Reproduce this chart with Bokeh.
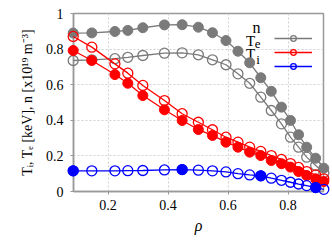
from bokeh.plotting import figure
from bokeh.models import Range1d, Legend, LegendItem, Label, FixedTicker
from bokeh.embed import file_html
from bokeh.resources import INLINE

# ---- data ----
rho = [0.084, 0.146, 0.223, 0.266, 0.316, 0.388, 0.447, 0.501, 0.548, 0.593,
       0.633, 0.672, 0.709, 0.744, 0.778, 0.808, 0.835, 0.862, 0.892, 0.919]
n_filled = [0.890, 0.891, 0.899, 0.905, 0.920, 0.936, 0.937, 0.923, 0.892, 0.848,
            0.788, 0.723, 0.639, 0.563, 0.474, 0.399, 0.319, 0.249, 0.187, 0.131]
n_open = [0.736, 0.740, 0.746, 0.754, 0.764, 0.777, 0.779, 0.768, 0.740, 0.712,
          0.661, 0.608, 0.530, 0.455, 0.380, 0.305, 0.249, 0.193, 0.146, 0.105]
te_filled = [0.792, 0.736, 0.657, 0.608, 0.539, 0.459, 0.399, 0.348, 0.315, 0.277,
             0.249, 0.221, 0.202, 0.174, 0.156, 0.137, 0.112, 0.090, 0.071, 0.056]
te_open = [0.871, 0.811, 0.717, 0.665, 0.596, 0.511, 0.437, 0.389, 0.347, 0.305,
           0.277, 0.249, 0.225, 0.202, 0.180, 0.157, 0.135, 0.112, 0.093, 0.071]
ti = [0.116, 0.116, 0.116, 0.117, 0.118, 0.121, 0.123, 0.120, 0.116, 0.110,
      0.100, 0.093, 0.088, 0.075, 0.063, 0.052, 0.042, 0.033, 0.022, 0.012]
ti_filled_step = 6
x_ticks = [0.2, 0.4, 0.6, 0.8]
y_ticks = [0, 0.2, 0.4, 0.6, 0.8, 1]

GRAY = "#7a7a7a"
RED = "#ff0000"
BLUE = "#0000ff"
SERIF = "Liberation Serif"
FRAME = "#999999"

p = figure(width=332, height=240, output_backend="svg", toolbar_location=None,
           x_range=Range1d(0.085, 0.918), y_range=Range1d(0, 1),
           min_border_left=73, min_border_right=9, min_border_top=13,
           min_border_bottom=49, background_fill_color="white",
           border_fill_color="white")
p.outline_line_color = FRAME
p.outline_line_width = 1.5

for ax in (p.xaxis[0], p.yaxis[0]):
    ax.axis_line_color = FRAME
    ax.axis_line_width = 1.5
    ax.major_tick_line_color = FRAME
    ax.major_tick_in = 0
    ax.major_tick_out = 3
    ax.minor_tick_line_color = None
    ax.major_label_text_font = SERIF
    ax.major_label_text_font_size = "14px"
    ax.major_label_text_color = "black"
    ax.axis_label_text_font = SERIF
    ax.axis_label_text_color = "black"

p.xaxis.ticker = FixedTicker(ticks=x_ticks)
p.yaxis.ticker = FixedTicker(ticks=y_ticks)
p.xaxis.major_label_standoff = 5
p.yaxis.major_label_standoff = 7
p.yaxis.major_label_overrides = {0: "0", 1: "1"}

p.xaxis.axis_label = "ρ"
p.xaxis.axis_label_text_font_style = "italic"
p.xaxis.axis_label_text_font_size = "16px"
p.xaxis.axis_label_standoff = 4
p.yaxis.axis_label = "Tᵢ, Tₑ [keV], n [x10¹⁹ m⁻³]"
p.yaxis.axis_label_text_font_style = "normal"
p.yaxis.axis_label_text_font_size = "14px"
p.yaxis.axis_label_standoff = 8

p.xgrid.ticker = FixedTicker(ticks=x_ticks)
p.ygrid.ticker = FixedTicker(ticks=y_ticks)
for g in (p.xgrid[0], p.ygrid[0]):
    g.grid_line_color = "#d0d0d0"
    g.grid_line_dash = "2 2"
    g.grid_line_width = 1

MS = 10
LW = 1.3
LV = "overlay"

# n
p.line(rho, n_filled, color=GRAY, line_width=LW, level=LV)
p.scatter(rho, n_filled, size=MS, color=GRAY, level=LV)
n_line = p.line(rho, n_open, color=GRAY, line_width=LW, level=LV)
n_pts = p.scatter(rho, n_open, size=MS, line_color=GRAY, fill_color=None,
                  line_width=LW, level=LV)
# Te
p.line(rho, te_filled, color=RED, line_width=LW, level=LV)
p.scatter(rho, te_filled, size=MS, color=RED, level=LV)
te_line = p.line(rho, te_open, color=RED, line_width=LW, level=LV)
te_pts = p.scatter(rho, te_open, size=MS, line_color=RED, fill_color=None,
                   line_width=LW, level=LV)
# Ti
ti_line = p.line(rho, ti, color=BLUE, line_width=LW, level=LV)
ti_pts = p.scatter(rho, ti, size=MS, line_color=BLUE, fill_color=None,
                   line_width=LW, level=LV)
p.scatter(rho[::ti_filled_step], ti[::ti_filled_step], size=MS, color=BLUE, level=LV)

legend = Legend(items=[LegendItem(label="", renderers=[n_line, n_pts]),
                       LegendItem(label="", renderers=[te_line, te_pts]),
                       LegendItem(label="", renderers=[ti_line, ti_pts])],
                location=(201, 118), orientation="vertical",
                glyph_width=38, glyph_height=14, spacing=0, padding=0, margin=0,
                label_width=0, label_standoff=0, label_height=14,
                border_line_color=None, background_fill_alpha=0)
p.add_layout(legend)

# legend texts (placed in data units, left of the legend glyphs)
for txt, x, y, size in [("n", 0.708, 0.920, "16px"),
                        ("T", 0.690, 0.848, "15px"), ("e", 0.708, 0.826, "13px"),
                        ("T", 0.690, 0.770, "15px"), ("i", 0.706, 0.740, "13px")]:
    p.add_layout(Label(x=x, y=y, text=txt, text_font=SERIF, text_font_size=size,
                       text_align="right", text_baseline="alphabetic",
                       text_color="black"))

open("out.html", "w").write(file_html(p, INLINE))
